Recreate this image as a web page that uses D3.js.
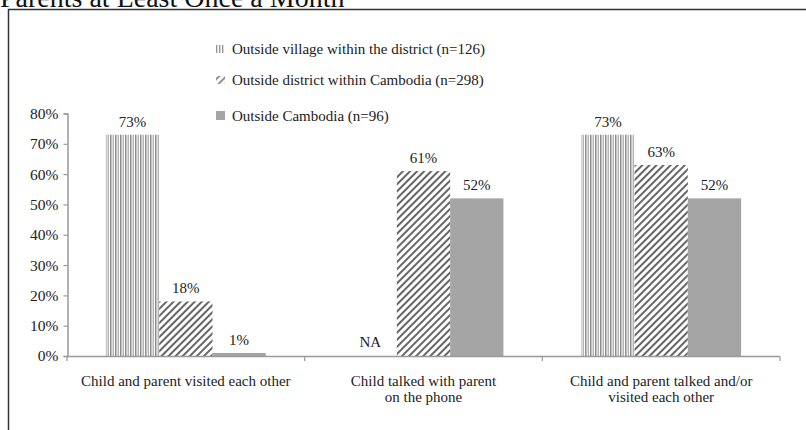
<!DOCTYPE html>
<html>
<head>
<meta charset="utf-8">
<script src="https://cdn.jsdelivr.net/npm/d3@7"></script>
<style>
  html, body { margin: 0; padding: 0; background: #fff; }
  svg { display: block; }
  text { font-family: "Liberation Serif", "Times New Roman", serif; fill: #222; }
</style>
</head>
<body>
<svg id="chart" width="806" height="430"></svg>
<script>
// Categories and series
const categories = [
  ["Child and parent visited each other"],
  ["Child talked with parent", "on the phone"],
  ["Child and parent talked and/or", "visited each other"]
];
const seriesNames = [
  "Outside village within the district (n=126)",
  "Outside district within Cambodia (n=298)",
  "Outside Cambodia (n=96)"
];
const villageValues  = [73, null, 73];
const districtValues = [18, 61, 63];
const abroadValues   = [1, 52, 52];
const yTicks = [0, 10, 20, 30, 40, 50, 60, 70, 80];

const seriesValues = [villageValues, districtValues, abroadValues];

const svg = d3.select("#chart");
const defs = svg.append("defs");

// Fill patterns: vertical stripes, diagonal hatch, solid grey
const pStripe = defs.append("pattern")
  .attr("id", "stripes").attr("patternUnits", "userSpaceOnUse")
  .attr("width", 5).attr("height", 10);
pStripe.append("rect").attr("width", 5).attr("height", 10).attr("fill", "#fff");
pStripe.append("rect").attr("x", 0).attr("width", 1.5).attr("height", 10).attr("fill", "#8c8c8c");
pStripe.append("rect").attr("x", 2.6).attr("width", 1.2).attr("height", 10).attr("fill", "#a5a5a5");

const pHatch = defs.append("pattern")
  .attr("id", "hatch").attr("patternUnits", "userSpaceOnUse")
  .attr("width", 5).attr("height", 5)
  .attr("patternTransform", "rotate(45)");
pHatch.append("rect").attr("width", 5).attr("height", 5).attr("fill", "#fff");
pHatch.append("rect").attr("x", 0).attr("width", 2).attr("height", 5).attr("fill", "#666");

const fills = ["url(#stripes)", "url(#hatch)", "#a5a5a5"];

// Title (partly above the visible area)
svg.append("text")
  .attr("x", 0).attr("y", 7)
  .style("font-size", "28px").style("fill", "#111")
  .text("Parents at Least Once a Month");

// Frame
svg.append("rect")
  .attr("x", 8.5).attr("y", 9.5).attr("width", 900).attr("height", 600)
  .attr("fill", "none").attr("stroke", "#333").attr("stroke-width", 1.5);

// Scales
const x = d3.scaleBand().domain(d3.range(categories.length)).range([67, 780]).padding(0);
const xs = d3.scaleBand().domain(d3.range(seriesNames.length))
  .range([0, x.bandwidth()]).paddingInner(0).paddingOuter(0.73);
const y = d3.scaleLinear().domain([0, 80]).range([356, 113.5]);

// Y axis
const yAxis = d3.axisLeft(y).tickValues(yTicks).tickFormat(d => d + "%").tickSize(4).tickPadding(5);
const gy = svg.append("g").attr("transform", "translate(67.5,0)").call(yAxis);
gy.select(".domain").attr("stroke", "#999").attr("stroke-width", 1.5);
gy.selectAll(".tick line").attr("stroke", "#999").attr("stroke-width", 1.2);
gy.selectAll(".tick text")
  .style("font-family", "'Liberation Serif', 'Times New Roman', serif")
  .style("font-size", "15.5px").attr("fill", "#222");

// Bars
const bars = [];
seriesValues.forEach((vals, s) => vals.forEach((v, c) => bars.push({ s, c, v })));

svg.append("g").selectAll("rect")
  .data(bars.filter(d => d.v != null))
  .join("rect")
  .attr("x", d => x(d.c) + xs(d.s))
  .attr("width", xs.bandwidth())
  .attr("y", d => y(d.v))
  .attr("height", d => y(0) - y(d.v))
  .attr("fill", d => fills[d.s]);

// Value labels
svg.append("g").selectAll("text")
  .data(bars)
  .join("text")
  .attr("x", d => x(d.c) + xs(d.s) + xs.bandwidth() / 2)
  .attr("y", d => d.v == null ? y(0) - 9 : y(d.v) - 8)
  .attr("text-anchor", "middle")
  .style("font-size", "15px")
  .text(d => d.v == null ? "NA" : d.v + "%");

// X axis
const xAxisLine = svg.append("g");
xAxisLine.append("line")
  .attr("x1", 67).attr("x2", 780).attr("y1", 356.5).attr("y2", 356.5)
  .attr("stroke", "#999").attr("stroke-width", 1.5);
xAxisLine.selectAll("line.tick")
  .data(d3.range(categories.length + 1))
  .join("line").attr("class", "tick")
  .attr("x1", i => i < categories.length ? x(i) : x.range()[1])
  .attr("x2", i => i < categories.length ? x(i) : x.range()[1])
  .attr("y1", 356.5).attr("y2", 361)
  .attr("stroke", "#999").attr("stroke-width", 1.2);

// Category labels
const catG = svg.append("g").selectAll("text")
  .data(categories)
  .join("text")
  .attr("text-anchor", "middle")
  .attr("transform", (d, i) => `translate(${x(i) + x.bandwidth() / 2},386)`)
  .style("font-size", "15px");
catG.selectAll("tspan")
  .data(d => d)
  .join("tspan")
  .attr("x", 0)
  .attr("dy", (d, i) => i === 0 ? 0 : 16)
  .text(d => d);

// Legend
const legendY = [54, 85, 121];
const lg = svg.append("g");
seriesNames.forEach((name, i) => {
  const row = lg.append("g").attr("transform", `translate(216,${legendY[i]})`);
  if (i === 0) {
    [0, 3, 6].forEach(dx => row.append("rect")
      .attr("x", dx).attr("y", -9).attr("width", 1.4).attr("height", 8).attr("fill", "#999"));
  } else if (i === 1) {
    row.append("rect").attr("x", 0).attr("y", -9).attr("width", 9).attr("height", 8)
      .attr("fill", fills[1]).attr("opacity", 0.7);
  } else {
    row.append("rect").attr("x", 0).attr("y", -10).attr("width", 9).attr("height", 9)
      .attr("fill", fills[2]);
  }
  row.append("text").attr("x", 16).attr("y", 0)
    .style("font-size", "15px").text(name);
});
</script>
</body>
</html>
